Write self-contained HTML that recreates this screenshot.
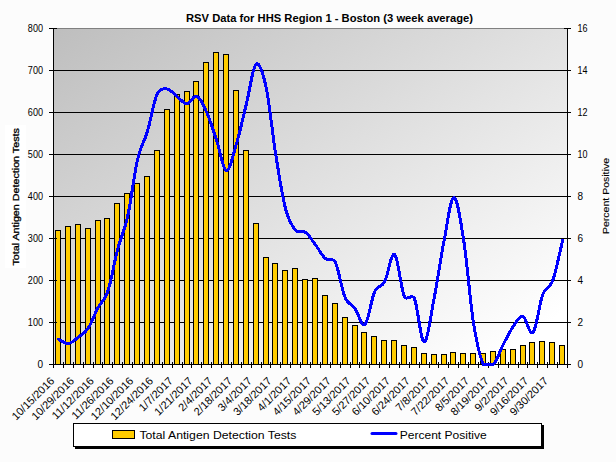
<!DOCTYPE html>
<html><head><meta charset="utf-8"><title>RSV Data for HHS Region 1 - Boston</title>
<style>html,body{margin:0;padding:0;background:#fcfcfc;}body{width:616px;height:462px;overflow:hidden;}svg{display:block;}text{font-family:"Liberation Sans",Arial,sans-serif;}</style>
</head><body>
<svg width="616" height="462" viewBox="0 0 616 462" shape-rendering="crispEdges">
<defs><linearGradient id="pg" x1="0" y1="0" x2="1" y2="1"><stop offset="0" stop-color="#bebebe"/><stop offset="0.92" stop-color="#ffffff"/></linearGradient><clipPath id="pc"><rect x="54" y="29" width="513" height="337"/></clipPath></defs>
<rect x="0" y="0" width="616" height="462" fill="#fcfcfc"/>
<text x="186" y="21.6" font-size="11.3" font-weight="bold" fill="#000" textLength="287" lengthAdjust="spacingAndGlyphs">RSV Data for HHS Region 1 - Boston (3 week average)</text>
<rect x="54" y="28" width="513" height="336" fill="url(#pg)"/>
<line x1="53" y1="28.5" x2="567" y2="28.5" stroke="#808080" stroke-width="1"/>
<line x1="53" y1="322.5" x2="567" y2="322.5" stroke="#000" stroke-width="1"/>
<line x1="53" y1="280.5" x2="567" y2="280.5" stroke="#000" stroke-width="1"/>
<line x1="53" y1="238.5" x2="567" y2="238.5" stroke="#000" stroke-width="1"/>
<line x1="53" y1="196.5" x2="567" y2="196.5" stroke="#000" stroke-width="1"/>
<line x1="53" y1="154.5" x2="567" y2="154.5" stroke="#000" stroke-width="1"/>
<line x1="53" y1="112.5" x2="567" y2="112.5" stroke="#000" stroke-width="1"/>
<line x1="53" y1="70.5" x2="567" y2="70.5" stroke="#000" stroke-width="1"/>
<rect x="55.5" y="230.5" width="5" height="134.0" fill="#ffcc00" stroke="#000" stroke-width="1"/>
<rect x="65.5" y="226.5" width="5" height="138.0" fill="#ffcc00" stroke="#000" stroke-width="1"/>
<rect x="75.5" y="224.5" width="5" height="140.0" fill="#ffcc00" stroke="#000" stroke-width="1"/>
<rect x="85.5" y="228.5" width="5" height="136.0" fill="#ffcc00" stroke="#000" stroke-width="1"/>
<rect x="95.5" y="220.5" width="5" height="144.0" fill="#ffcc00" stroke="#000" stroke-width="1"/>
<rect x="104.5" y="218.5" width="5" height="146.0" fill="#ffcc00" stroke="#000" stroke-width="1"/>
<rect x="114.5" y="203.5" width="5" height="161.0" fill="#ffcc00" stroke="#000" stroke-width="1"/>
<rect x="124.5" y="193.5" width="5" height="171.0" fill="#ffcc00" stroke="#000" stroke-width="1"/>
<rect x="134.5" y="183.5" width="5" height="181.0" fill="#ffcc00" stroke="#000" stroke-width="1"/>
<rect x="144.5" y="176.5" width="5" height="188.0" fill="#ffcc00" stroke="#000" stroke-width="1"/>
<rect x="154.5" y="150.5" width="5" height="214.0" fill="#ffcc00" stroke="#000" stroke-width="1"/>
<rect x="164.5" y="109.5" width="5" height="255.0" fill="#ffcc00" stroke="#000" stroke-width="1"/>
<rect x="174.5" y="94.5" width="5" height="270.0" fill="#ffcc00" stroke="#000" stroke-width="1"/>
<rect x="184.5" y="91.5" width="5" height="273.0" fill="#ffcc00" stroke="#000" stroke-width="1"/>
<rect x="193.5" y="81.5" width="5" height="283.0" fill="#ffcc00" stroke="#000" stroke-width="1"/>
<rect x="203.5" y="62.5" width="5" height="302.0" fill="#ffcc00" stroke="#000" stroke-width="1"/>
<rect x="213.5" y="52.5" width="5" height="312.0" fill="#ffcc00" stroke="#000" stroke-width="1"/>
<rect x="223.5" y="54.5" width="5" height="310.0" fill="#ffcc00" stroke="#000" stroke-width="1"/>
<rect x="233.5" y="90.5" width="5" height="274.0" fill="#ffcc00" stroke="#000" stroke-width="1"/>
<rect x="243.5" y="150.5" width="5" height="214.0" fill="#ffcc00" stroke="#000" stroke-width="1"/>
<rect x="253.5" y="223.5" width="5" height="141.0" fill="#ffcc00" stroke="#000" stroke-width="1"/>
<rect x="263.5" y="257.5" width="5" height="107.0" fill="#ffcc00" stroke="#000" stroke-width="1"/>
<rect x="272.5" y="263.5" width="5" height="101.0" fill="#ffcc00" stroke="#000" stroke-width="1"/>
<rect x="282.5" y="270.5" width="5" height="94.0" fill="#ffcc00" stroke="#000" stroke-width="1"/>
<rect x="292.5" y="268.5" width="5" height="96.0" fill="#ffcc00" stroke="#000" stroke-width="1"/>
<rect x="302.5" y="279.5" width="5" height="85.0" fill="#ffcc00" stroke="#000" stroke-width="1"/>
<rect x="312.5" y="278.5" width="5" height="86.0" fill="#ffcc00" stroke="#000" stroke-width="1"/>
<rect x="322.5" y="295.5" width="5" height="69.0" fill="#ffcc00" stroke="#000" stroke-width="1"/>
<rect x="332.5" y="303.5" width="5" height="61.0" fill="#ffcc00" stroke="#000" stroke-width="1"/>
<rect x="342.5" y="317.5" width="5" height="47.0" fill="#ffcc00" stroke="#000" stroke-width="1"/>
<rect x="352.5" y="325.5" width="5" height="39.0" fill="#ffcc00" stroke="#000" stroke-width="1"/>
<rect x="361.5" y="332.5" width="5" height="32.0" fill="#ffcc00" stroke="#000" stroke-width="1"/>
<rect x="371.5" y="336.5" width="5" height="28.0" fill="#ffcc00" stroke="#000" stroke-width="1"/>
<rect x="381.5" y="340.5" width="5" height="24.0" fill="#ffcc00" stroke="#000" stroke-width="1"/>
<rect x="391.5" y="340.5" width="5" height="24.0" fill="#ffcc00" stroke="#000" stroke-width="1"/>
<rect x="401.5" y="345.5" width="5" height="19.0" fill="#ffcc00" stroke="#000" stroke-width="1"/>
<rect x="411.5" y="347.5" width="5" height="17.0" fill="#ffcc00" stroke="#000" stroke-width="1"/>
<rect x="421.5" y="353.5" width="5" height="11.0" fill="#ffcc00" stroke="#000" stroke-width="1"/>
<rect x="431.5" y="354.5" width="5" height="10.0" fill="#ffcc00" stroke="#000" stroke-width="1"/>
<rect x="441.5" y="354.5" width="5" height="10.0" fill="#ffcc00" stroke="#000" stroke-width="1"/>
<rect x="450.5" y="352.5" width="5" height="12.0" fill="#ffcc00" stroke="#000" stroke-width="1"/>
<rect x="460.5" y="353.5" width="5" height="11.0" fill="#ffcc00" stroke="#000" stroke-width="1"/>
<rect x="470.5" y="353.5" width="5" height="11.0" fill="#ffcc00" stroke="#000" stroke-width="1"/>
<rect x="480.5" y="353.5" width="5" height="11.0" fill="#ffcc00" stroke="#000" stroke-width="1"/>
<rect x="490.5" y="351.5" width="5" height="13.0" fill="#ffcc00" stroke="#000" stroke-width="1"/>
<rect x="500.5" y="349.5" width="5" height="15.0" fill="#ffcc00" stroke="#000" stroke-width="1"/>
<rect x="510.5" y="349.5" width="5" height="15.0" fill="#ffcc00" stroke="#000" stroke-width="1"/>
<rect x="520.5" y="345.5" width="5" height="19.0" fill="#ffcc00" stroke="#000" stroke-width="1"/>
<rect x="529.5" y="342.5" width="5" height="22.0" fill="#ffcc00" stroke="#000" stroke-width="1"/>
<rect x="539.5" y="341.5" width="5" height="23.0" fill="#ffcc00" stroke="#000" stroke-width="1"/>
<rect x="549.5" y="342.5" width="5" height="22.0" fill="#ffcc00" stroke="#000" stroke-width="1"/>
<rect x="559.5" y="345.5" width="5" height="19.0" fill="#ffcc00" stroke="#000" stroke-width="1"/>
<line x1="53.5" y1="28" x2="53.5" y2="365" stroke="#000"/>
<line x1="567.5" y1="28" x2="567.5" y2="365" stroke="#000"/>
<line x1="53" y1="364.5" x2="568" y2="364.5" stroke="#000"/>
<line x1="49" y1="364.5" x2="57" y2="364.5" stroke="#000"/>
<line x1="564" y1="364.5" x2="571" y2="364.5" stroke="#000"/>
<line x1="49" y1="322.5" x2="57" y2="322.5" stroke="#000"/>
<line x1="564" y1="322.5" x2="571" y2="322.5" stroke="#000"/>
<line x1="49" y1="280.5" x2="57" y2="280.5" stroke="#000"/>
<line x1="564" y1="280.5" x2="571" y2="280.5" stroke="#000"/>
<line x1="49" y1="238.5" x2="57" y2="238.5" stroke="#000"/>
<line x1="564" y1="238.5" x2="571" y2="238.5" stroke="#000"/>
<line x1="49" y1="196.5" x2="57" y2="196.5" stroke="#000"/>
<line x1="564" y1="196.5" x2="571" y2="196.5" stroke="#000"/>
<line x1="49" y1="154.5" x2="57" y2="154.5" stroke="#000"/>
<line x1="564" y1="154.5" x2="571" y2="154.5" stroke="#000"/>
<line x1="49" y1="112.5" x2="57" y2="112.5" stroke="#000"/>
<line x1="564" y1="112.5" x2="571" y2="112.5" stroke="#000"/>
<line x1="49" y1="70.5" x2="57" y2="70.5" stroke="#000"/>
<line x1="564" y1="70.5" x2="571" y2="70.5" stroke="#000"/>
<line x1="49" y1="28.5" x2="57" y2="28.5" stroke="#000"/>
<line x1="564" y1="28.5" x2="571" y2="28.5" stroke="#000"/>
<line x1="53.5" y1="362" x2="53.5" y2="368" stroke="#000"/>
<line x1="63.5" y1="362" x2="63.5" y2="368" stroke="#000"/>
<line x1="73.5" y1="362" x2="73.5" y2="368" stroke="#000"/>
<line x1="83.5" y1="362" x2="83.5" y2="368" stroke="#000"/>
<line x1="93.5" y1="362" x2="93.5" y2="368" stroke="#000"/>
<line x1="102.5" y1="362" x2="102.5" y2="368" stroke="#000"/>
<line x1="112.5" y1="362" x2="112.5" y2="368" stroke="#000"/>
<line x1="122.5" y1="362" x2="122.5" y2="368" stroke="#000"/>
<line x1="132.5" y1="362" x2="132.5" y2="368" stroke="#000"/>
<line x1="142.5" y1="362" x2="142.5" y2="368" stroke="#000"/>
<line x1="152.5" y1="362" x2="152.5" y2="368" stroke="#000"/>
<line x1="162.5" y1="362" x2="162.5" y2="368" stroke="#000"/>
<line x1="172.5" y1="362" x2="172.5" y2="368" stroke="#000"/>
<line x1="182.5" y1="362" x2="182.5" y2="368" stroke="#000"/>
<line x1="191.5" y1="362" x2="191.5" y2="368" stroke="#000"/>
<line x1="201.5" y1="362" x2="201.5" y2="368" stroke="#000"/>
<line x1="211.5" y1="362" x2="211.5" y2="368" stroke="#000"/>
<line x1="221.5" y1="362" x2="221.5" y2="368" stroke="#000"/>
<line x1="231.5" y1="362" x2="231.5" y2="368" stroke="#000"/>
<line x1="241.5" y1="362" x2="241.5" y2="368" stroke="#000"/>
<line x1="251.5" y1="362" x2="251.5" y2="368" stroke="#000"/>
<line x1="261.5" y1="362" x2="261.5" y2="368" stroke="#000"/>
<line x1="270.5" y1="362" x2="270.5" y2="368" stroke="#000"/>
<line x1="280.5" y1="362" x2="280.5" y2="368" stroke="#000"/>
<line x1="290.5" y1="362" x2="290.5" y2="368" stroke="#000"/>
<line x1="300.5" y1="362" x2="300.5" y2="368" stroke="#000"/>
<line x1="310.5" y1="362" x2="310.5" y2="368" stroke="#000"/>
<line x1="320.5" y1="362" x2="320.5" y2="368" stroke="#000"/>
<line x1="330.5" y1="362" x2="330.5" y2="368" stroke="#000"/>
<line x1="340.5" y1="362" x2="340.5" y2="368" stroke="#000"/>
<line x1="350.5" y1="362" x2="350.5" y2="368" stroke="#000"/>
<line x1="359.5" y1="362" x2="359.5" y2="368" stroke="#000"/>
<line x1="369.5" y1="362" x2="369.5" y2="368" stroke="#000"/>
<line x1="379.5" y1="362" x2="379.5" y2="368" stroke="#000"/>
<line x1="389.5" y1="362" x2="389.5" y2="368" stroke="#000"/>
<line x1="399.5" y1="362" x2="399.5" y2="368" stroke="#000"/>
<line x1="409.5" y1="362" x2="409.5" y2="368" stroke="#000"/>
<line x1="419.5" y1="362" x2="419.5" y2="368" stroke="#000"/>
<line x1="429.5" y1="362" x2="429.5" y2="368" stroke="#000"/>
<line x1="438.5" y1="362" x2="438.5" y2="368" stroke="#000"/>
<line x1="448.5" y1="362" x2="448.5" y2="368" stroke="#000"/>
<line x1="458.5" y1="362" x2="458.5" y2="368" stroke="#000"/>
<line x1="468.5" y1="362" x2="468.5" y2="368" stroke="#000"/>
<line x1="478.5" y1="362" x2="478.5" y2="368" stroke="#000"/>
<line x1="488.5" y1="362" x2="488.5" y2="368" stroke="#000"/>
<line x1="498.5" y1="362" x2="498.5" y2="368" stroke="#000"/>
<line x1="508.5" y1="362" x2="508.5" y2="368" stroke="#000"/>
<line x1="518.5" y1="362" x2="518.5" y2="368" stroke="#000"/>
<line x1="527.5" y1="362" x2="527.5" y2="368" stroke="#000"/>
<line x1="537.5" y1="362" x2="537.5" y2="368" stroke="#000"/>
<line x1="547.5" y1="362" x2="547.5" y2="368" stroke="#000"/>
<line x1="557.5" y1="362" x2="557.5" y2="368" stroke="#000"/>
<line x1="567.5" y1="362" x2="567.5" y2="368" stroke="#000"/>
<path d="M58.44,339.30 L58.79,339.47 L59.20,339.70 L59.68,339.98 L60.22,340.30 L60.80,340.65 L61.43,341.03 L62.08,341.41 L62.77,341.79 L63.47,342.16 L64.19,342.51 L64.91,342.82 L65.62,343.09 L66.33,343.30 L67.02,343.45 L67.69,343.52 L68.33,343.50 L68.94,343.40 L69.56,343.23 L70.18,343.01 L70.80,342.73 L71.42,342.40 L72.03,342.03 L72.65,341.62 L73.27,341.18 L73.89,340.71 L74.50,340.22 L75.12,339.72 L75.74,339.21 L76.36,338.70 L76.98,338.19 L77.59,337.69 L78.21,337.20 L78.83,336.73 L79.45,336.28 L80.06,335.84 L80.68,335.40 L81.30,334.96 L81.92,334.51 L82.54,334.05 L83.15,333.56 L83.77,333.05 L84.39,332.51 L85.01,331.92 L85.62,331.29 L86.24,330.60 L86.86,329.86 L87.48,329.05 L88.10,328.17 L88.71,327.20 L89.33,326.14 L89.95,325.00 L90.57,323.79 L91.19,322.52 L91.80,321.20 L92.42,319.85 L93.04,318.47 L93.66,317.08 L94.27,315.68 L94.89,314.28 L95.51,312.91 L96.13,311.56 L96.75,310.25 L97.36,309.00 L97.98,307.80 L98.60,306.69 L99.22,305.68 L99.85,304.74 L100.48,303.86 L101.11,303.02 L101.74,302.20 L102.37,301.38 L102.99,300.54 L103.62,299.67 L104.24,298.74 L104.86,297.74 L105.47,296.65 L106.08,295.45 L106.68,294.12 L107.28,292.64 L107.87,291.00 L108.48,289.05 L109.10,286.89 L109.72,284.55 L110.34,282.05 L110.95,279.42 L111.57,276.68 L112.19,273.86 L112.81,270.98 L113.43,268.08 L114.04,265.17 L114.66,262.27 L115.28,259.43 L115.90,256.65 L116.51,253.97 L117.13,251.41 L117.75,249.00 L118.37,246.75 L118.99,244.64 L119.60,242.66 L120.22,240.76 L120.84,238.94 L121.46,237.16 L122.07,235.41 L122.69,233.64 L123.31,231.85 L123.93,230.01 L124.55,228.09 L125.16,226.06 L125.78,223.91 L126.40,221.61 L127.02,219.13 L127.63,216.45 L128.25,213.52 L128.87,210.32 L129.49,206.91 L130.11,203.31 L130.72,199.56 L131.34,195.71 L131.96,191.79 L132.58,187.84 L133.19,183.89 L133.81,180.00 L134.43,176.19 L135.05,172.50 L135.67,168.97 L136.28,165.65 L136.90,162.56 L137.52,159.75 L138.14,157.22 L138.75,154.91 L139.37,152.81 L139.99,150.89 L140.61,149.11 L141.23,147.45 L141.84,145.88 L142.46,144.38 L143.08,142.92 L143.70,141.46 L144.31,139.99 L144.93,138.47 L145.55,136.88 L146.17,135.19 L146.79,133.37 L147.40,131.40 L148.02,129.24 L148.64,126.92 L149.26,124.46 L149.88,121.88 L150.49,119.24 L151.11,116.54 L151.73,113.83 L152.35,111.13 L152.96,108.49 L153.58,105.91 L154.20,103.45 L154.82,101.12 L155.44,98.96 L156.05,97.00 L156.67,95.28 L157.29,93.81 L157.75,92.93 L158.25,92.15 L158.78,91.47 L159.35,90.89 L159.95,90.39 L160.57,89.97 L161.21,89.63 L161.87,89.35 L162.53,89.15 L163.21,88.99 L163.89,88.89 L164.57,88.84 L165.24,88.83 L165.90,88.85 L166.54,88.90 L167.17,88.98 L167.79,89.11 L168.41,89.33 L169.03,89.64 L169.64,90.01 L170.26,90.44 L170.88,90.93 L171.50,91.45 L172.12,92.01 L172.73,92.59 L173.35,93.19 L173.97,93.79 L174.59,94.39 L175.20,94.97 L175.82,95.53 L176.44,96.06 L177.06,96.54 L177.68,97.02 L178.29,97.55 L178.91,98.11 L179.53,98.69 L180.15,99.29 L180.76,99.89 L181.38,100.47 L182.00,101.04 L182.62,101.58 L183.24,102.08 L183.85,102.53 L184.47,102.92 L185.09,103.24 L185.71,103.48 L186.32,103.63 L186.94,103.68 L187.56,103.58 L188.18,103.29 L188.80,102.86 L189.41,102.31 L190.03,101.66 L190.65,100.95 L191.27,100.20 L191.88,99.44 L192.50,98.70 L193.12,98.00 L193.74,97.38 L194.36,96.85 L194.97,96.46 L195.59,96.22 L196.21,96.17 L196.83,96.33 L197.44,96.67 L198.06,97.15 L198.68,97.74 L199.30,98.44 L199.92,99.25 L200.53,100.15 L201.15,101.14 L201.77,102.21 L202.39,103.35 L203.00,104.54 L203.62,105.79 L204.24,107.08 L204.86,108.40 L205.48,109.76 L206.09,111.12 L206.71,112.50 L207.33,113.92 L207.95,115.41 L208.56,116.98 L209.18,118.61 L209.80,120.29 L210.42,122.02 L211.04,123.79 L211.65,125.60 L212.27,127.43 L212.89,129.29 L213.51,131.15 L214.12,133.02 L214.74,134.90 L215.36,136.76 L215.98,138.61 L216.60,140.43 L217.21,142.35 L217.83,144.47 L218.45,146.74 L219.07,149.11 L219.69,151.56 L220.30,154.02 L220.92,156.46 L221.54,158.84 L222.16,161.12 L222.77,163.24 L223.39,165.18 L224.01,166.88 L224.63,168.30 L225.25,169.40 L225.86,170.13 L226.48,170.46 L227.10,170.38 L227.72,169.94 L228.33,169.18 L228.95,168.12 L229.57,166.80 L230.19,165.25 L230.81,163.49 L231.42,161.57 L232.04,159.52 L232.66,157.36 L233.28,155.13 L233.89,152.85 L234.51,150.57 L235.13,148.32 L235.75,146.11 L236.37,144.00 L236.98,141.89 L237.60,139.69 L238.22,137.42 L238.84,135.07 L239.45,132.65 L240.07,130.19 L240.69,127.67 L241.31,125.13 L241.93,122.55 L242.54,119.96 L243.16,117.36 L243.78,114.75 L244.40,112.16 L245.01,109.58 L245.63,107.03 L246.25,104.52 L246.87,101.91 L247.49,99.09 L248.10,96.11 L248.72,93.02 L249.34,89.87 L249.96,86.69 L250.57,83.55 L251.19,80.47 L251.81,77.52 L252.43,74.74 L253.05,72.18 L253.66,69.87 L254.28,67.87 L254.90,66.23 L255.52,64.99 L256.13,64.20 L256.76,63.84 L257.40,63.83 L258.05,64.17 L258.70,64.80 L259.36,65.72 L260.02,66.90 L260.68,68.30 L261.33,69.90 L261.98,71.68 L262.61,73.62 L263.23,75.67 L263.83,77.82 L264.42,80.05 L264.98,82.31 L265.51,84.60 L266.02,86.88 L266.64,89.94 L267.25,93.36 L267.87,97.12 L268.49,101.16 L269.11,105.44 L269.73,109.91 L270.34,114.53 L270.96,119.26 L271.58,124.05 L272.20,128.85 L272.81,133.63 L273.43,138.34 L274.05,142.93 L274.67,147.36 L275.29,151.58 L275.90,155.55 L276.52,159.39 L277.14,163.23 L277.76,167.06 L278.38,170.86 L278.99,174.62 L279.61,178.33 L280.23,181.98 L280.85,185.54 L281.46,189.01 L282.08,192.37 L282.70,195.61 L283.32,198.72 L283.94,201.68 L284.55,204.47 L285.17,207.09 L285.79,209.52 L286.35,211.53 L286.92,213.42 L287.50,215.19 L288.10,216.85 L288.71,218.41 L289.33,219.87 L289.96,221.24 L290.59,222.52 L291.23,223.71 L291.87,224.82 L292.51,225.86 L293.15,226.83 L293.79,227.73 L294.42,228.57 L295.05,229.36 L295.67,230.10 L296.29,230.73 L296.91,231.19 L297.53,231.52 L298.14,231.73 L298.76,231.83 L299.38,231.86 L300.00,231.83 L300.62,231.77 L301.23,231.69 L301.85,231.61 L302.47,231.56 L303.09,231.55 L303.70,231.61 L304.32,231.76 L304.94,232.02 L305.56,232.41 L306.18,232.91 L306.79,233.47 L307.41,234.09 L308.03,234.77 L308.65,235.50 L309.26,236.26 L309.88,237.07 L310.50,237.90 L311.12,238.75 L311.74,239.62 L312.35,240.50 L312.97,241.38 L313.59,242.25 L314.21,243.12 L314.82,243.97 L315.44,244.80 L316.06,245.64 L316.68,246.51 L317.30,247.42 L317.91,248.36 L318.53,249.30 L319.15,250.26 L319.77,251.22 L320.38,252.16 L321.00,253.09 L321.62,254.00 L322.24,254.87 L322.86,255.70 L323.47,256.48 L324.09,257.21 L324.71,257.87 L325.33,258.45 L325.95,258.92 L326.60,259.25 L327.26,259.47 L327.92,259.60 L328.60,259.66 L329.27,259.68 L329.94,259.67 L330.60,259.66 L331.26,259.67 L331.90,259.73 L332.52,259.85 L333.12,260.06 L333.69,260.38 L334.23,260.83 L334.74,261.44 L335.21,262.23 L335.83,263.61 L336.45,265.28 L337.06,267.21 L337.68,269.36 L338.30,271.68 L338.92,274.14 L339.54,276.70 L340.15,279.31 L340.77,281.93 L341.39,284.53 L342.01,287.06 L342.62,289.48 L343.24,291.76 L343.86,293.85 L344.48,295.71 L345.10,297.30 L345.65,298.50 L346.23,299.56 L346.81,300.48 L347.41,301.29 L348.02,302.00 L348.64,302.63 L349.27,303.20 L349.90,303.72 L350.54,304.22 L351.18,304.71 L351.82,305.21 L352.46,305.73 L353.10,306.30 L353.73,306.93 L354.36,307.63 L354.98,308.43 L355.60,309.39 L356.22,310.55 L356.83,311.85 L357.45,313.27 L358.07,314.77 L358.69,316.29 L359.31,317.81 L359.92,319.28 L360.54,320.67 L361.16,321.93 L361.78,323.02 L362.39,323.91 L363.01,324.55 L363.63,324.91 L364.25,324.94 L364.87,324.60 L365.48,323.84 L366.10,322.65 L366.72,321.10 L367.34,319.23 L367.95,317.09 L368.57,314.75 L369.19,312.24 L369.81,309.64 L370.43,306.98 L371.04,304.32 L371.66,301.72 L372.28,299.23 L372.90,296.90 L373.51,294.79 L374.13,292.94 L374.75,291.42 L375.31,290.33 L375.88,289.43 L376.46,288.68 L377.06,288.07 L377.67,287.56 L378.29,287.13 L378.92,286.76 L379.55,286.41 L380.19,286.07 L380.83,285.71 L381.47,285.29 L382.11,284.80 L382.75,284.20 L383.38,283.48 L384.01,282.61 L384.63,281.55 L385.25,280.20 L385.87,278.52 L386.49,276.55 L387.11,274.37 L387.72,272.04 L388.34,269.62 L388.96,267.17 L389.58,264.76 L390.19,262.46 L390.81,260.32 L391.43,258.40 L392.05,256.78 L392.67,255.51 L393.28,254.66 L393.90,254.29 L394.52,254.46 L395.14,255.26 L395.75,256.68 L396.37,258.63 L396.99,261.04 L397.61,263.83 L398.23,266.91 L398.84,270.21 L399.46,273.65 L400.08,277.14 L400.70,280.61 L401.31,283.98 L401.93,287.16 L402.55,290.08 L403.17,292.66 L403.79,294.81 L404.40,296.46 L404.83,297.19 L405.34,297.67 L405.91,297.94 L406.54,298.04 L407.21,298.00 L407.91,297.86 L408.63,297.64 L409.37,297.40 L410.10,297.15 L410.82,296.93 L411.52,296.79 L412.19,296.75 L412.81,296.86 L413.37,297.13 L413.87,297.62 L414.29,298.35 L414.91,300.08 L415.52,302.39 L416.14,305.17 L416.76,308.33 L417.38,311.78 L418.00,315.42 L418.61,319.16 L419.23,322.91 L419.85,326.57 L420.47,330.04 L421.08,333.25 L421.70,336.08 L422.32,338.44 L422.94,340.25 L423.56,341.41 L424.17,341.82 L424.79,341.52 L425.41,340.66 L426.03,339.27 L426.64,337.43 L427.26,335.17 L427.88,332.56 L428.50,329.64 L429.12,326.48 L429.73,323.11 L430.35,319.61 L430.97,316.01 L431.59,312.38 L432.20,308.77 L432.82,305.22 L433.44,301.80 L434.06,298.56 L434.68,295.35 L435.29,291.99 L435.91,288.52 L436.53,284.94 L437.15,281.29 L437.76,277.57 L438.38,273.82 L439.00,270.04 L439.62,266.26 L440.24,262.50 L440.85,258.78 L441.47,255.11 L442.09,251.53 L442.71,248.04 L443.32,244.67 L443.94,241.44 L444.56,238.17 L445.18,234.73 L445.80,231.15 L446.41,227.50 L447.03,223.83 L447.65,220.19 L448.27,216.64 L448.88,213.23 L449.50,210.02 L450.12,207.06 L450.74,204.40 L451.36,202.10 L451.97,200.21 L452.59,198.79 L453.21,197.88 L453.83,197.55 L454.44,197.78 L455.06,198.50 L455.68,199.67 L456.30,201.26 L456.92,203.24 L457.53,205.57 L458.15,208.22 L458.77,211.15 L459.39,214.32 L460.00,217.71 L460.62,221.28 L461.24,224.99 L461.86,228.82 L462.48,232.72 L463.09,236.65 L463.71,240.60 L464.33,244.77 L464.95,249.35 L465.56,254.28 L466.18,259.52 L466.80,264.99 L467.42,270.63 L468.04,276.39 L468.65,282.21 L469.27,288.02 L469.89,293.77 L470.51,299.39 L471.12,304.83 L471.74,310.03 L472.36,314.92 L472.98,319.45 L473.60,323.55 L474.21,327.34 L474.83,330.96 L475.45,334.41 L476.07,337.70 L476.69,340.82 L477.30,343.78 L477.92,346.58 L478.54,349.21 L479.16,351.68 L479.77,353.99 L480.39,356.14 L481.01,358.13 L481.63,359.96 L482.25,361.63 L482.86,363.14 L483.48,364.50 L483.91,364.80 L484.39,364.80 L484.91,364.80 L485.47,364.80 L486.06,364.80 L486.68,364.80 L487.33,364.80 L487.99,364.80 L488.67,364.80 L489.36,364.80 L490.05,364.80 L490.73,364.80 L491.41,364.80 L492.08,364.80 L492.74,364.80 L493.37,364.50 L493.98,363.80 L494.60,362.95 L495.22,361.96 L495.84,360.87 L496.45,359.67 L497.07,358.39 L497.69,357.04 L498.31,355.64 L498.93,354.21 L499.54,352.75 L500.16,351.30 L500.78,349.86 L501.40,348.45 L502.01,347.08 L502.63,345.78 L503.25,344.55 L503.87,343.36 L504.49,342.17 L505.10,340.96 L505.72,339.76 L506.34,338.56 L506.96,337.36 L507.57,336.18 L508.19,335.01 L508.81,333.86 L509.43,332.73 L510.05,331.63 L510.66,330.57 L511.28,329.54 L511.90,328.55 L512.52,327.60 L513.13,326.70 L513.75,325.81 L514.37,324.89 L514.99,323.96 L515.61,323.02 L516.22,322.10 L516.84,321.21 L517.46,320.35 L518.08,319.55 L518.69,318.81 L519.31,318.15 L519.93,317.59 L520.55,317.13 L521.17,316.79 L521.78,316.58 L522.40,316.52 L523.02,316.62 L523.64,317.00 L524.25,317.74 L524.87,318.77 L525.49,320.04 L526.11,321.50 L526.73,323.07 L527.34,324.71 L527.96,326.35 L528.58,327.93 L529.20,329.40 L529.81,330.70 L530.43,331.77 L531.05,332.56 L531.67,332.99 L532.29,333.02 L532.90,332.58 L533.52,331.64 L534.14,330.25 L534.76,328.45 L535.38,326.31 L535.99,323.88 L536.61,321.23 L537.23,318.40 L537.85,315.45 L538.46,312.45 L539.08,309.44 L539.70,306.49 L540.32,303.65 L540.94,300.99 L541.55,298.54 L542.17,296.39 L542.79,294.57 L543.37,293.18 L543.97,291.99 L544.58,290.98 L545.20,290.12 L545.84,289.37 L546.48,288.71 L547.12,288.12 L547.77,287.55 L548.41,286.98 L549.05,286.38 L549.68,285.72 L550.31,284.97 L550.92,284.11 L551.52,283.09 L552.11,281.90 L552.67,280.50 L553.31,278.64 L553.98,276.48 L554.67,274.05 L555.38,271.41 L556.09,268.60 L556.81,265.68 L557.53,262.68 L558.23,259.67 L558.92,256.69 L559.57,253.78 L560.20,250.99 L560.78,248.37 L561.32,245.98 L561.80,243.85 L562.21,242.05 L562.56,240.60" fill="none" stroke="#0000ff" stroke-width="3" stroke-linejoin="round" stroke-linecap="round" shape-rendering="crispEdges" clip-path="url(#pc)"/>
<text x="43" y="368.0" font-size="10" text-anchor="end" fill="#000">0</text>
<text x="43" y="326.0" font-size="10" text-anchor="end" fill="#000" textLength="15.15" lengthAdjust="spacingAndGlyphs">100</text>
<text x="43" y="284.0" font-size="10" text-anchor="end" fill="#000" textLength="15.15" lengthAdjust="spacingAndGlyphs">200</text>
<text x="43" y="242.0" font-size="10" text-anchor="end" fill="#000" textLength="15.15" lengthAdjust="spacingAndGlyphs">300</text>
<text x="43" y="200.0" font-size="10" text-anchor="end" fill="#000" textLength="15.15" lengthAdjust="spacingAndGlyphs">400</text>
<text x="43" y="158.0" font-size="10" text-anchor="end" fill="#000" textLength="15.15" lengthAdjust="spacingAndGlyphs">500</text>
<text x="43" y="116.0" font-size="10" text-anchor="end" fill="#000" textLength="15.15" lengthAdjust="spacingAndGlyphs">600</text>
<text x="43" y="74.0" font-size="10" text-anchor="end" fill="#000" textLength="15.15" lengthAdjust="spacingAndGlyphs">700</text>
<text x="43" y="32.0" font-size="10" text-anchor="end" fill="#000" textLength="15.15" lengthAdjust="spacingAndGlyphs">800</text>
<text x="577.5" y="368.0" font-size="10" fill="#000">0</text>
<text x="577.5" y="326.0" font-size="10" fill="#000">2</text>
<text x="577.5" y="284.0" font-size="10" fill="#000">4</text>
<text x="577.5" y="242.0" font-size="10" fill="#000">6</text>
<text x="577.5" y="200.0" font-size="10" fill="#000">8</text>
<text x="577.5" y="158.0" font-size="10" fill="#000" textLength="10.00" lengthAdjust="spacingAndGlyphs">10</text>
<text x="577.5" y="116.0" font-size="10" fill="#000" textLength="10.00" lengthAdjust="spacingAndGlyphs">12</text>
<text x="577.5" y="74.0" font-size="10" fill="#000" textLength="10.00" lengthAdjust="spacingAndGlyphs">14</text>
<text x="577.5" y="32.0" font-size="10" fill="#000" textLength="10.00" lengthAdjust="spacingAndGlyphs">16</text>
<text transform="translate(55.10,381.70) rotate(-45)" font-size="11.0" text-anchor="end" fill="#000">10/15/2016</text>
<text transform="translate(74.84,381.70) rotate(-45)" font-size="11.0" text-anchor="end" fill="#000">10/29/2016</text>
<text transform="translate(94.59,381.70) rotate(-45)" font-size="11.0" text-anchor="end" fill="#000">11/12/2016</text>
<text transform="translate(114.34,381.70) rotate(-45)" font-size="11.0" text-anchor="end" fill="#000">11/26/2016</text>
<text transform="translate(134.08,381.70) rotate(-45)" font-size="11.0" text-anchor="end" fill="#000">12/10/2016</text>
<text transform="translate(153.83,381.70) rotate(-45)" font-size="11.0" text-anchor="end" fill="#000">12/24/2016</text>
<text transform="translate(173.57,381.70) rotate(-45)" font-size="11.0" text-anchor="end" fill="#000">1/7/2017</text>
<text transform="translate(193.31,381.70) rotate(-45)" font-size="11.0" text-anchor="end" fill="#000">1/21/2017</text>
<text transform="translate(213.06,381.70) rotate(-45)" font-size="11.0" text-anchor="end" fill="#000">2/4/2017</text>
<text transform="translate(232.81,381.70) rotate(-45)" font-size="11.0" text-anchor="end" fill="#000">2/18/2017</text>
<text transform="translate(252.55,381.70) rotate(-45)" font-size="11.0" text-anchor="end" fill="#000">3/4/2017</text>
<text transform="translate(272.30,381.70) rotate(-45)" font-size="11.0" text-anchor="end" fill="#000">3/18/2017</text>
<text transform="translate(292.04,381.70) rotate(-45)" font-size="11.0" text-anchor="end" fill="#000">4/1/2017</text>
<text transform="translate(311.79,381.70) rotate(-45)" font-size="11.0" text-anchor="end" fill="#000">4/15/2017</text>
<text transform="translate(331.53,381.70) rotate(-45)" font-size="11.0" text-anchor="end" fill="#000">4/29/2017</text>
<text transform="translate(351.28,381.70) rotate(-45)" font-size="11.0" text-anchor="end" fill="#000">5/13/2017</text>
<text transform="translate(371.02,381.70) rotate(-45)" font-size="11.0" text-anchor="end" fill="#000">5/27/2017</text>
<text transform="translate(390.77,381.70) rotate(-45)" font-size="11.0" text-anchor="end" fill="#000">6/10/2017</text>
<text transform="translate(410.51,381.70) rotate(-45)" font-size="11.0" text-anchor="end" fill="#000">6/24/2017</text>
<text transform="translate(430.26,381.70) rotate(-45)" font-size="11.0" text-anchor="end" fill="#000">7/8/2017</text>
<text transform="translate(450.00,381.70) rotate(-45)" font-size="11.0" text-anchor="end" fill="#000">7/22/2017</text>
<text transform="translate(469.75,381.70) rotate(-45)" font-size="11.0" text-anchor="end" fill="#000">8/5/2017</text>
<text transform="translate(489.49,381.70) rotate(-45)" font-size="11.0" text-anchor="end" fill="#000">8/19/2017</text>
<text transform="translate(509.24,381.70) rotate(-45)" font-size="11.0" text-anchor="end" fill="#000">9/2/2017</text>
<text transform="translate(528.98,381.70) rotate(-45)" font-size="11.0" text-anchor="end" fill="#000">9/16/2017</text>
<text transform="translate(548.73,381.70) rotate(-45)" font-size="11.0" text-anchor="end" fill="#000">9/30/2017</text>
<rect x="5" y="125" width="21" height="143" fill="#fff"/>
<text transform="translate(19.2,265.6) rotate(-90)" font-size="9.4" fill="#000" stroke="#000" stroke-width="0.3" textLength="137.5" lengthAdjust="spacingAndGlyphs">Total Antigen Detection Tests</text>
<text transform="translate(609,234) rotate(-90)" font-size="9.4" fill="#000" stroke="#000" stroke-width="0.12" textLength="76" lengthAdjust="spacingAndGlyphs">Percent Positive</text>
<rect x="75" y="425" width="469" height="24" fill="#000"/>
<rect x="73.5" y="423.5" width="468" height="23" fill="#fff" stroke="#000"/>
<rect x="112.5" y="430.5" width="22" height="8" fill="#ffcc00" stroke="#000"/>
<text x="139.4" y="438.8" font-size="11" fill="#000" textLength="157" lengthAdjust="spacingAndGlyphs">Total Antigen Detection Tests</text>
<line x1="372" y1="433.5" x2="396" y2="433.5" stroke="#0000ff" stroke-width="3" stroke-linecap="round" shape-rendering="auto"/>
<text x="399.7" y="438.8" font-size="11" fill="#000" textLength="87" lengthAdjust="spacingAndGlyphs">Percent Positive</text>
</svg></body></html>
